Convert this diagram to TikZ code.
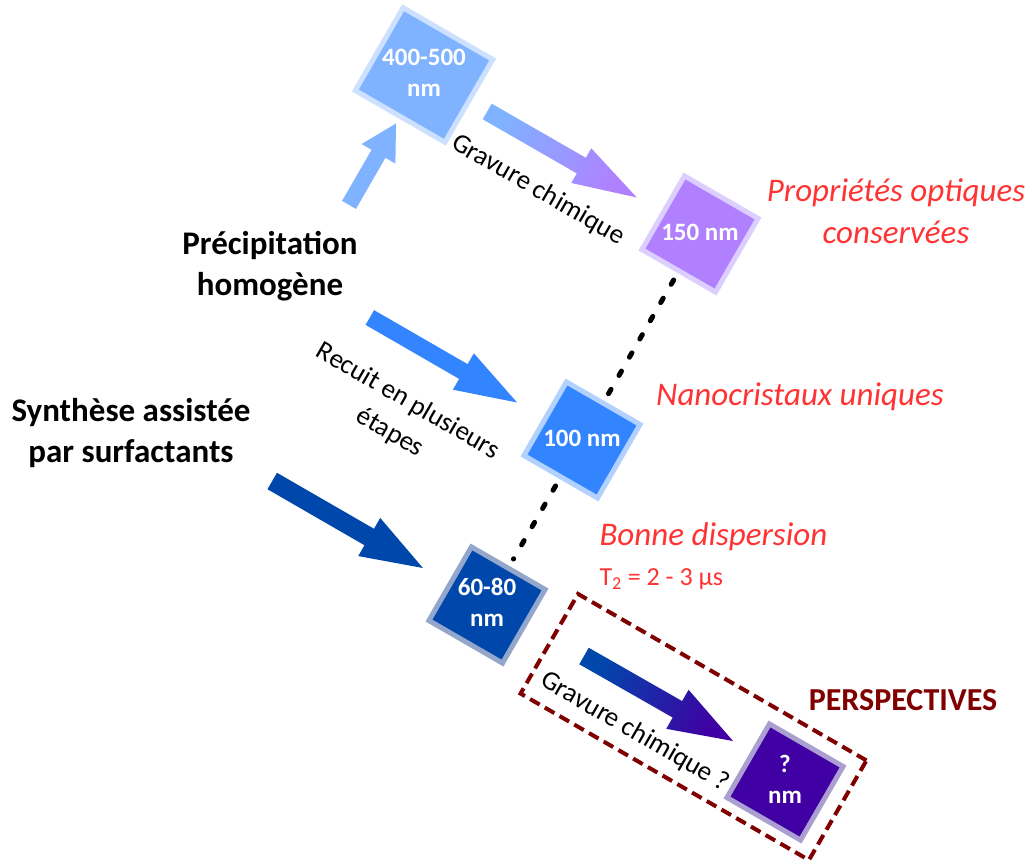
\documentclass[tikz,border=0pt]{standalone}
\usepackage{fontspec}
\setmainfont{Carlito}
\usetikzlibrary{calc}
\definecolor{sky}{HTML}{7FB2FF}
\definecolor{skyrim}{HTML}{CCE0FF}
\definecolor{lilac}{HTML}{B080FF}
\definecolor{lilacrim}{HTML}{DCCFFF}
\definecolor{azure}{HTML}{3385FF}
\definecolor{azurerim}{HTML}{B3D1FF}
\definecolor{cobalt}{HTML}{0047AB}
\definecolor{cobaltrim}{HTML}{93A7CC}
\definecolor{indigo}{HTML}{4000A3}
\definecolor{indigorim}{HTML}{AB9FD2}
\definecolor{rednote}{HTML}{FF3333}
\definecolor{maroon}{HTML}{800000}
\tikzset{
  cube/.style 2 args={fill=#1, draw=#2, line width=5pt, rotate=-30,
        minimum size=85pt, inner sep=0pt, text=white,
        font=\bfseries\fontsize{25}{31}\selectfont},
  method/.style={font=\bfseries\fontsize{33}{41}\selectfont, align=center},
  note/.style={font=\itshape\fontsize{33}{42}\selectfont, text=rednote, align=center},
  pathlbl/.style={font=\fontsize{27}{36}\selectfont, rotate=-30, align=center},
  dotline/.style={line width=5pt, line cap=round, dash pattern=on 5pt off 16pt,
        shorten <=8pt, shorten >=8pt},
  fat/.style={fill=#1},
  fatshade/.style 2 args={left color=#1, right color=#2, shading angle=60}
}
% upright text inside a turned square
\newcommand{\upr}[1]{\rotatebox{30}{\begin{tabular}{@{}c@{}}#1\end{tabular}}}
% block arrow: [style]{tail}{tip}{half shaft}{half head}{head length}
\newcommand{\fatarrow}[6][]{%
  \coordinate (fa-t) at #2;
  \coordinate (fa-p) at #3;
  \coordinate (fa-h) at ($(fa-p)!#6!(fa-t)$);
  \path[#1] ($(fa-t)!#4!90:(fa-p)$) -- ($(fa-h)!#4!90:(fa-p)$)
    -- ($(fa-h)!#5!90:(fa-p)$) -- (fa-p) -- ($(fa-h)!#5!-90:(fa-p)$)
    -- ($(fa-h)!#4!-90:(fa-p)$) -- ($(fa-t)!#4!-90:(fa-p)$) -- cycle;
}
\begin{document}
\begin{tikzpicture}[x=1pt, y=1pt]
  \path[use as bounding box, fill=white] (0,0) rectangle (1028,-862);

  % sizes
  \node[cube={sky}{skyrim}] (s400) at (424,-75) {\upr{400-500\\nm}};
  \node[cube={lilac}{lilacrim}] (s150) at (700,-234) {\upr{150 nm}};
  \node[cube={azure}{azurerim}] (s100) at (582,-440) {\upr{100 nm}};
  \node[cube={cobalt}{cobaltrim}] (s6080) at (487,-605) {\upr{60-80\\nm}};
  \node[cube={indigo}{indigorim}] (sq) at (785,-782) {\upr{?\\nm}};

  % methods
  \node[method] (prec) at (270,-266) {Précipitation\\homogène};
  \node[method] (synth) at (131,-433) {Synthèse assistée\\par surfactants};

  % remarks
  \node[note] (optic) at (896,-211) {Propriétés optiques\\conservées};
  \node[note] (nano) at (800,-397) {Nanocristaux uniques};
  \node[note, anchor=west] (disp) at (596,-537) {Bonne dispersion};
  \node[font=\fontsize{26}{30}\selectfont, text=rednote, anchor=west] (t2)
    at (596,-579) {T\textsubscript{2} = 2 - 3 µs};
  \node[font=\bfseries\fontsize{32}{40}\selectfont, text=maroon] (persptxt)
    at (903,-700) {PERSPECTIVES};

  % steps
  \node[pathlbl] (grav1) at (538,-190) {Gravure chimique};
  \node[pathlbl] (recuit) at (399,-417) {Recuit en plusieurs\\étapes};
  \node[pathlbl] (grav2) at (635,-732) {Gravure chimique ?};

  \node[draw=maroon, line width=4pt, dash pattern=on 11pt off 6pt, rotate=-30,
        minimum width=333pt, minimum height=115pt] (persp) at (693.5,-727) {};

  \fatarrow[fat=sky]{($(s400)+(240:150)$)}{($(s400)+(240:56)$)}{8pt}{19.5pt}{35pt}
  \fatarrow[fatshade={sky}{lilac}]{($(s400)+(-30:73)$)}{($(s150)+(150:73)$)}{9pt}{20pt}{64pt}
  \fatarrow[fat=azure]{($(s100)+(150:245)$)}{($(s100)+(150:75)$)}{8.5pt}{21pt}{62pt}
  \fatarrow[fat=cobalt]{($(s6080)+(150:248)$)}{($(s6080)+(150:74)$)}{9.5pt}{22pt}{62pt}
  \fatarrow[fatshade={cobalt}{indigo}]{($(s6080)+(97,-51)$)}{($(sq)+(-52,41)$)}{9.5pt}{22.5pt}{64pt}

  \draw[dotline] (s150) -- (s100);
  \draw[dotline] (s100) -- (s6080);
\end{tikzpicture}
\end{document}
